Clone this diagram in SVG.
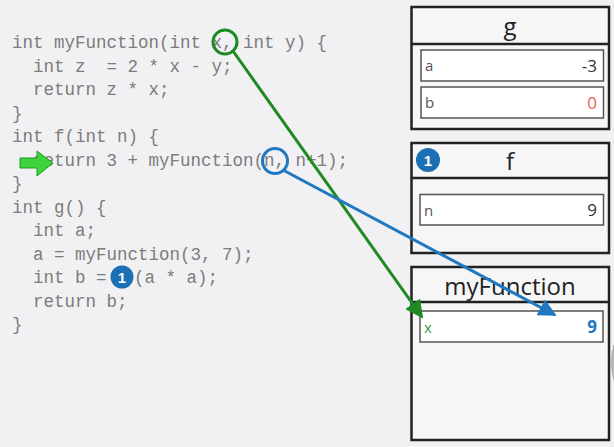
<svg xmlns="http://www.w3.org/2000/svg" width="614" height="447" viewBox="0 0 614 447">
<defs>
<style>
.code{font-family:"Liberation Mono","DejaVu Sans Mono",monospace;font-size:17.5px;fill:#7c7c7c;white-space:pre}
.frame{fill:#f6f6f7;stroke:#222;stroke-width:2.5}
.div{stroke:#222;stroke-width:2.5}
.cell{fill:#fff;stroke:#555;stroke-width:1.5}
.title{font-family:"Open Sans","Noto Sans",sans-serif;font-size:24px;fill:#222;text-anchor:middle}
.lbl{font-family:"Open Sans","Noto Sans",sans-serif;font-size:15px;fill:#555}
.val{font-family:"Open Sans","Noto Sans",sans-serif;font-size:17px;fill:#333;text-anchor:end}
.badge{fill:#1a6fb5}
.badgeT{font-family:"Liberation Sans",Arial,sans-serif;font-size:15px;font-weight:bold;fill:#fff;text-anchor:middle}
</style>
<marker id="ag" viewBox="0 0 10 10" refX="9" refY="5" markerWidth="6" markerHeight="6" orient="auto" markerUnits="strokeWidth"><path d="M0,0 L10,5 L0,10 z" fill="#1f8a24"/></marker>
<marker id="ab" viewBox="0 0 10 10" refX="9" refY="5" markerWidth="6" markerHeight="6" orient="auto" markerUnits="strokeWidth"><path d="M0,0 L10,5 L0,10 z" fill="#1f78c0"/></marker>
</defs>
<rect width="614" height="447" fill="#f1f1f3"/>

<g id="code">
<text class="code" x="12" y="48">int myFunction(int x, int y) {</text>
<text class="code" x="12" y="71.5">  int z  = 2 * x - y;</text>
<text class="code" x="12" y="95">  return z * x;</text>
<text class="code" x="12" y="118.5">}</text>
<text class="code" x="12" y="142">int f(int n) {</text>
<text class="code" x="12" y="165.5">  return 3 + myFunction(n, n+1);</text>
<text class="code" x="12" y="189">}</text>
<text class="code" x="12" y="212.5">int g() {</text>
<text class="code" x="12" y="236">  int a;</text>
<text class="code" x="12" y="259.5">  a = myFunction(3, 7);</text>
<text class="code" x="12" y="283">  int b =</text>
<text class="code" x="134" y="283">(a * a);</text>
<text class="code" x="12" y="306.5">  return b;</text>
<text class="code" x="12" y="330">}</text>
</g>

<g id="pc-arrow">
<path d="M20,158 L37,158 L37,151 L53,163 L37,176 L37,168 L20,168 z" fill="#3dd43d" stroke="#1f9a1f" stroke-width="1"/>
</g>

<g id="badge-code">
<circle class="badge" cx="122" cy="277" r="11.5"/>
<text class="badgeT" x="122" y="282.5">1</text>
</g>

<g id="frame-g">
<rect class="frame" x="411.5" y="7" width="197.5" height="122"/>
<line class="div" x1="411.5" y1="44" x2="609" y2="44"/>
<text class="title" x="510" y="35">g</text>
<rect class="cell" x="421" y="50" width="182.5" height="31"/>
<text class="lbl" x="425" y="71">a</text>
<text class="val" x="597" y="72">-3</text>
<rect class="cell" x="421" y="87" width="182.5" height="31"/>
<text class="lbl" x="425" y="108">b</text>
<text class="val" x="597" y="109" style="fill:#e8604c">0</text>
</g>

<g id="frame-f">
<rect class="frame" x="411.5" y="143" width="197.5" height="110"/>
<line class="div" x1="411.5" y1="178" x2="609" y2="178"/>
<text class="title" x="510" y="170">f</text>
<circle class="badge" cx="428" cy="160" r="12"/>
<text class="badgeT" x="428" y="165.5">1</text>
<rect class="cell" x="420" y="194.5" width="183.5" height="30.5"/>
<text class="lbl" x="424" y="216">n</text>
<text class="val" x="597" y="216">9</text>
</g>

<g id="frame-myFunction">
<rect class="frame" x="411.5" y="267" width="197.5" height="173"/>
<line class="div" x1="411.5" y1="302" x2="609" y2="302"/>
<text class="title" x="510" y="295">myFunction</text>
<rect class="cell" x="420" y="311" width="183" height="31"/>
<text class="lbl" x="424" y="333" style="fill:#3a9a3a">x</text>
<text class="val" x="597" y="333" style="fill:#1f78c0;font-weight:bold">9</text>
</g>

<path d="M614,345 Q609,362 614,380" fill="#bbb" stroke="#aaa" stroke-width="1"/>

<g id="connectors" fill="none">
<circle cx="225" cy="42" r="12" stroke="#1f8a24" stroke-width="3"/>
<line x1="233" y1="51" x2="422" y2="317" stroke="#1f8a24" stroke-width="3" marker-end="url(#ag)"/>
<circle cx="275" cy="161" r="12.5" stroke="#1f78c0" stroke-width="3"/>
<line x1="283" y1="170" x2="555" y2="315" stroke="#1f78c0" stroke-width="3" marker-end="url(#ab)"/>
</g>
</svg>
